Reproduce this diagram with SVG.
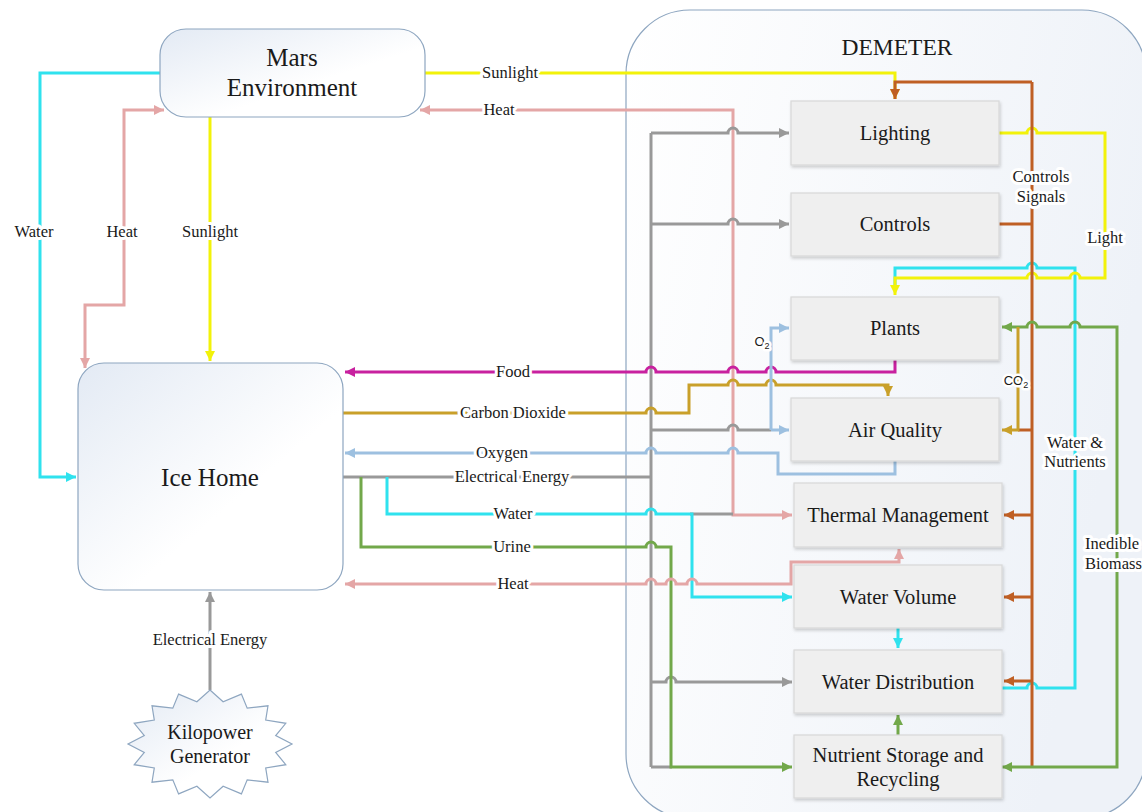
<svg xmlns="http://www.w3.org/2000/svg" width="1142" height="812" viewBox="0 0 1142 812">
<defs>
<linearGradient id="gBlue" x1="0" y1="0" x2="1" y2="1">
<stop offset="0" stop-color="#e3eaf4"/><stop offset="0.6" stop-color="#ffffff"/><stop offset="1" stop-color="#ffffff"/>
</linearGradient>
<linearGradient id="gDem" x1="0" y1="0" x2="1" y2="0.3">
<stop offset="0" stop-color="#ffffff"/><stop offset="1" stop-color="#eef2f8"/>
</linearGradient>
<filter id="sh" x="-10%" y="-10%" width="120%" height="130%">
<feDropShadow dx="1" dy="2" stdDeviation="1.5" flood-color="#000" flood-opacity="0.18"/>
</filter>
<marker id="aCyan" viewBox="0 0 10 10" refX="10" refY="5" markerUnits="userSpaceOnUse" markerWidth="11" markerHeight="10" orient="auto-start-reverse"><path d="M0,0 L10,5 L0,10 z" fill="#2fe2ee"/></marker>
<marker id="aPink" viewBox="0 0 10 10" refX="10" refY="5" markerUnits="userSpaceOnUse" markerWidth="11" markerHeight="10" orient="auto-start-reverse"><path d="M0,0 L10,5 L0,10 z" fill="#e4a6a6"/></marker>
<marker id="aYel" viewBox="0 0 10 10" refX="10" refY="5" markerUnits="userSpaceOnUse" markerWidth="11" markerHeight="10" orient="auto-start-reverse"><path d="M0,0 L10,5 L0,10 z" fill="#f2f20a"/></marker>
<marker id="aGray" viewBox="0 0 10 10" refX="10" refY="5" markerUnits="userSpaceOnUse" markerWidth="11" markerHeight="10" orient="auto-start-reverse"><path d="M0,0 L10,5 L0,10 z" fill="#999999"/></marker>
<marker id="aMag" viewBox="0 0 10 10" refX="10" refY="5" markerUnits="userSpaceOnUse" markerWidth="11" markerHeight="10" orient="auto-start-reverse"><path d="M0,0 L10,5 L0,10 z" fill="#c8219f"/></marker>
<marker id="aGold" viewBox="0 0 10 10" refX="10" refY="5" markerUnits="userSpaceOnUse" markerWidth="11" markerHeight="10" orient="auto-start-reverse"><path d="M0,0 L10,5 L0,10 z" fill="#c9a02a"/></marker>
<marker id="aLB" viewBox="0 0 10 10" refX="10" refY="5" markerUnits="userSpaceOnUse" markerWidth="11" markerHeight="10" orient="auto-start-reverse"><path d="M0,0 L10,5 L0,10 z" fill="#9dc0e0"/></marker>
<marker id="aGrn" viewBox="0 0 10 10" refX="10" refY="5" markerUnits="userSpaceOnUse" markerWidth="11" markerHeight="10" orient="auto-start-reverse"><path d="M0,0 L10,5 L0,10 z" fill="#72a84a"/></marker>
<marker id="aBrn" viewBox="0 0 10 10" refX="10" refY="5" markerUnits="userSpaceOnUse" markerWidth="11" markerHeight="10" orient="auto-start-reverse"><path d="M0,0 L10,5 L0,10 z" fill="#bf5f24"/></marker>
</defs>
<style>
.c{fill:none;stroke-width:3;stroke-linejoin:miter}
.cyan{stroke:#2fe2ee}.pink{stroke:#e4a6a6}.yel{stroke:#f2f20a}.gray{stroke:#999999}
.mag{stroke:#c8219f}.gold{stroke:#c9a02a}.lb{stroke:#9dc0e0}.grn{stroke:#72a84a}.brn{stroke:#bf5f24}
.big{fill:url(#gBlue);stroke:#8ea6c0;stroke-width:1.2}
.box{fill:#efefef;stroke:#d8d8d8;stroke-width:1.2;filter:url(#sh)}
.t{font-family:"Liberation Serif","DejaVu Serif",serif;fill:#1a1a1a;text-anchor:middle}
.tb{font-size:20.5px}
.tn{font-size:25px}
.l{font-family:"Liberation Serif","DejaVu Serif",serif;font-size:16.5px;fill:#1a1a1a;text-anchor:middle;paint-order:stroke;stroke:#ffffff;stroke-width:6px;stroke-linejoin:round}
.ls{font-family:"Liberation Sans","DejaVu Sans",sans-serif;font-size:13px;fill:#1a1a1a;text-anchor:middle;paint-order:stroke;stroke:#ffffff;stroke-width:5px;stroke-linejoin:round}
</style>

<g id="demeter">
<rect x="626" y="10" width="520" height="808" rx="64" fill="url(#gDem)" stroke="#8ea6c0" stroke-width="1.2"/>
<text class="t" x="897" y="55" style="font-size:23.5px">DEMETER</text>
</g>

<g id="connectors">
<path class="c cyan" d="M160 73 H40 V477 H76" marker-end="url(#aCyan)"/>
<path class="c pink" d="M85 368 V305 H124 V110 H164" marker-start="url(#aPink)" marker-end="url(#aPink)"/>
<path class="c yel" d="M210 117 V361" marker-end="url(#aYel)"/>
<path class="c gray" d="M210 690 V592" marker-end="url(#aGray)"/>
<path class="c yel" d="M425 73 H895 V99" marker-end="url(#aYel)"/>
<path class="c pink" d="M420 110 H733 V515 H792" marker-start="url(#aPink)" marker-end="url(#aPink)"/>
<path class="c gray" d="M343 477 H651"/>
<path class="c gray" d="M651 133 V767"/>
<path class="c gray" d="M651 133 H728 A5 5 0 0 1 738 133 H789" marker-end="url(#aGray)"/>
<path class="c gray" d="M651 224 H728 A5 5 0 0 1 738 224 H789" marker-end="url(#aGray)"/>
<path class="c gray" d="M651 430 H728 A5 5 0 0 1 738 430 H771"/>
<path class="c gray" d="M690 514 H733"/>
<path class="c gray" d="M651 682 H666 A5 5 0 0 1 676 682 H792" marker-end="url(#aGray)"/>
<path class="c gray" d="M651 767 H672"/>
<path class="c mag" d="M895 360 V372 H776 A5 5 0 0 0 766 372 H738 A5 5 0 0 0 728 372 H656 A5 5 0 0 0 646 372 H345" marker-end="url(#aMag)"/>
<path class="c gold" d="M343 413 H646 A5 5 0 0 1 656 413 H689 V385 H728 A5 5 0 0 1 738 385 H766 A5 5 0 0 1 776 385 H888 V396" marker-end="url(#aGold)"/>
<path class="c lb" d="M895 461 V474 H778 V453 H738 A5 5 0 0 0 728 453 H656 A5 5 0 0 0 646 453 H345" marker-end="url(#aLB)"/>
<path class="c lb" d="M771 430 V328 H789" marker-end="url(#aLB)"/>
<path class="c lb" d="M771 430 H789" marker-end="url(#aLB)"/>
<path class="c cyan" d="M387 477 V514 H646 A5 5 0 0 1 656 514 H692 V597 H792" marker-end="url(#aCyan)"/>
<path class="c grn" d="M361 477 V547 H646 A5 5 0 0 1 656 547 H671 V767 H792" marker-end="url(#aGrn)"/>
<path class="c pink" d="M899 549 V562 H791 V584 H697 A5 5 0 0 0 687 584 H676 A5 5 0 0 0 666 584 H656 A5 5 0 0 0 646 584 H345" marker-start="url(#aPink)" marker-end="url(#aPink)"/>
<path class="c cyan" d="M898 628 V648" marker-end="url(#aCyan)"/>
<path class="c grn" d="M898 735 V715" marker-end="url(#aGrn)"/>
<path class="c cyan" d="M1002 688 H1027 A5 5 0 0 1 1037 688 H1075 V268 H1037 A5 5 0 0 0 1027 268 H895 V285"/>
<path class="c yel" d="M999 133 H1027 A5 5 0 0 1 1037 133 H1105 V278 H1080 A5 5 0 0 0 1070 278 H1037 A5 5 0 0 0 1027 278 H895 V295" marker-end="url(#aYel)"/>
<path class="c brn" d="M999 224 H1032"/>
<path class="c brn" d="M1032 82 V767"/>
<path class="c brn" d="M1032 82 H895 V99" marker-end="url(#aBrn)"/>
<path class="c brn" d="M1032 430 H1018"/>
<path class="c brn" d="M1032 515 H1004" marker-end="url(#aBrn)"/>
<path class="c brn" d="M1032 597 H1004" marker-end="url(#aBrn)"/>
<path class="c brn" d="M1032 681 H1004" marker-end="url(#aBrn)"/>
<path class="c grn" d="M1002 767 H1117 V327 H1080 A5 5 0 0 0 1070 327 H1037 A5 5 0 0 0 1027 327 H1002" marker-start="url(#aGrn)" marker-end="url(#aGrn)"/>
<path class="c gold" d="M1018 327 V430 H1002" marker-end="url(#aGold)"/>
</g>

<g id="labels">
<text class="l" x="510" y="78">Sunlight</text>
<text class="l" x="499" y="115">Heat</text>
<text class="l" x="34" y="237">Water</text>
<text class="l" x="122" y="237">Heat</text>
<text class="l" x="210" y="237">Sunlight</text>
<text class="l" x="210" y="645">Electrical Energy</text>
<text class="l" x="513" y="377">Food</text>
<text class="l" x="513" y="418">Carbon Dioxide</text>
<text class="l" x="502" y="458">Oxygen</text>
<text class="l" x="512" y="482">Electrical Energy</text>
<text class="l" x="513" y="519">Water</text>
<text class="l" x="512" y="552">Urine</text>
<text class="l" x="513" y="589">Heat</text>
<text class="l" x="1041" y="182"><tspan x="1041">Controls</tspan><tspan x="1041" dy="20">Signals</tspan></text>
<text class="l" x="1105" y="243">Light</text>
<text class="l" x="1075" y="448"><tspan x="1075">Water &amp;</tspan><tspan x="1075" dy="19">Nutrients</tspan></text>
<text class="l" x="1085" y="549" style="text-anchor:start"><tspan x="1085">Inedible</tspan><tspan x="1085" dy="20">Biomass</tspan></text>
<text class="ls" x="762" y="346">O<tspan font-size="9" dy="3">2</tspan></text>
<text class="ls" x="1016" y="385">CO<tspan font-size="9" dy="3">2</tspan></text>
</g>

<g id="mars">
<rect class="big" x="160" y="29" width="265" height="88" rx="26"/>
<text class="t tn" x="292" y="66">Mars</text>
<text class="t tn" x="292" y="96">Environment</text>
</g>
<g id="icehome">
<rect class="big" x="78" y="363" width="265" height="227" rx="26"/>
<text class="t tn" x="210" y="486">Ice Home</text>
</g>
<g id="kilopower">
<polygon class="big" points="210,690 223.1,701.8 241.4,694.1 247.2,708.2 268,705.8 265.7,720.1 285.8,723.3 275.7,735.6 292,744 275.7,752.4 285.8,764.7 265.7,767.9 268,782.2 247.2,779.8 241.4,793.9 223.1,786.2 210,798 196.9,786.2 178.6,793.9 172.8,779.8 152,782.2 154.3,767.9 134.2,764.7 144.3,752.4 128,744 144.3,735.6 134.2,723.3 154.3,720.1 152,705.8 172.8,708.2 178.6,694.1 196.9,701.8"/>
<text class="t" x="210" y="739" style="font-size:20px">Kilopower</text>
<text class="t" x="210" y="763" style="font-size:20px">Generator</text>
</g>
<g id="lighting"><rect class="box" x="791" y="101" width="208" height="64"/><text class="t tb" x="895" y="140">Lighting</text></g>
<g id="controls"><rect class="box" x="791" y="193" width="208" height="63"/><text class="t tb" x="895" y="231">Controls</text></g>
<g id="plants"><rect class="box" x="791" y="297" width="208" height="63"/><text class="t tb" x="895" y="335">Plants</text></g>
<g id="airquality"><rect class="box" x="791" y="398" width="208" height="63"/><text class="t tb" x="895" y="437">Air Quality</text></g>
<g id="thermal"><rect class="box" x="794" y="483" width="208" height="64"/><text class="t tb" x="898" y="522">Thermal Management</text></g>
<g id="watervolume"><rect class="box" x="794" y="565" width="208" height="63"/><text class="t tb" x="898" y="604">Water Volume</text></g>
<g id="waterdist"><rect class="box" x="794" y="650" width="208" height="63"/><text class="t tb" x="898" y="689">Water Distribution</text></g>
<g id="nutrient"><rect class="box" x="794" y="735" width="208" height="63"/><text class="t tb" x="898" y="762">Nutrient Storage and</text><text class="t tb" x="898" y="786">Recycling</text></g>
</svg>
